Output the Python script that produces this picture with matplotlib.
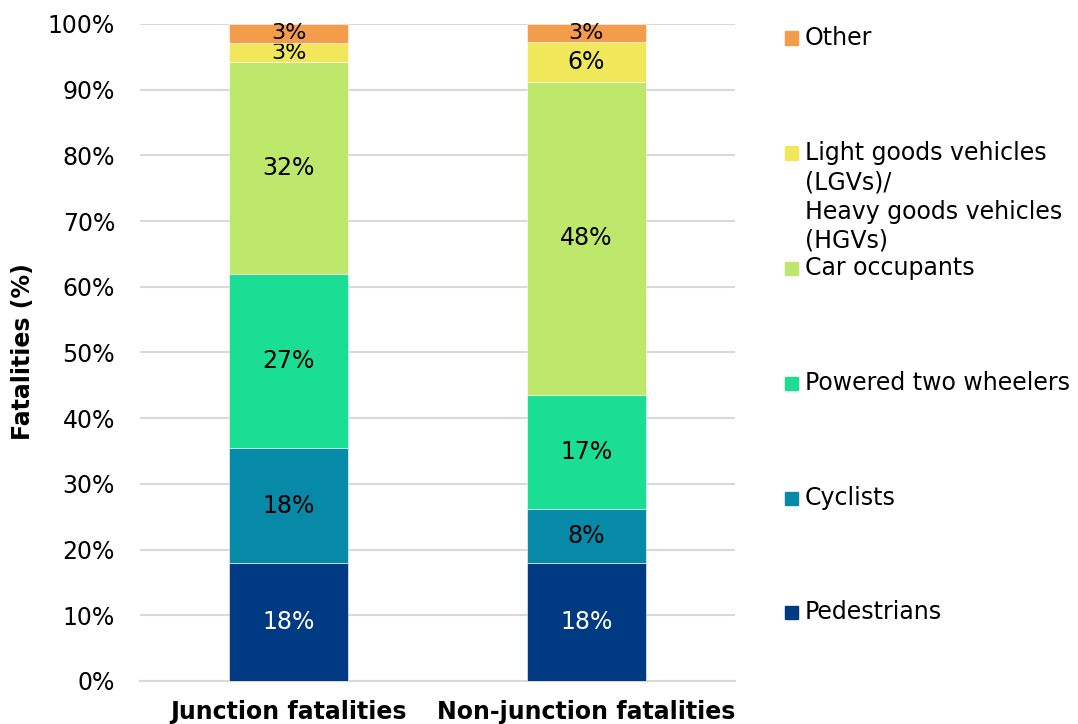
## stacked bar chart of fatalities by road user type
from matplotlib import pyplot as plt
from matplotlib.patches import Rectangle

categories = ['Junction fatalities', 'Non-junction fatalities']

# shares in % (bottom to top)
pedestrians = [18.0, 18.0]
cyclists = [17.4, 8.2]
powered_two_wheelers = [26.6, 17.3]
car_occupants = [32.2, 47.7]
goods_vehicles = [2.9, 6.1]
other = [2.9, 2.7]

# the labels as printed on the bars
ped_labels = ['18%', '18%']
cyc_labels = ['18%', '8%']
ptw_labels = ['27%', '17%']
car_labels = ['32%', '48%']
gv_labels = ['3%', '6%']
oth_labels = ['3%', '3%']

series = [
    ('Pedestrians', pedestrians, ped_labels, '#003A82', 'white'),
    ('Cyclists', cyclists, cyc_labels, '#0789A8', 'black'),
    ('Powered two wheelers', powered_two_wheelers, ptw_labels, '#19DE93', 'black'),
    ('Car occupants', car_occupants, car_labels, '#BDE86C', 'black'),
    ('Light goods vehicles\n(LGVs)/\nHeavy goods vehicles\n(HGVs)', goods_vehicles, gv_labels, '#F0E85A', 'black'),
    ('Other', other, oth_labels, '#F39C4C', 'black'),
]

fig = plt.figure(figsize=(10.78, 7.24), dpi=100)
ax = fig.add_axes([0.1299, 0.0594, 0.5519, 0.9075])

x = list(range(len(categories)))
bottom = [0.0] * len(categories)
for name, vals, labels, color, tcolor in series:
    bars = ax.bar(x, vals, width=0.4, bottom=bottom, color=color,
                  edgecolor='white', linewidth=0.4, zorder=3)
    texts = ax.bar_label(bars, labels=labels, label_type='center', color=tcolor, fontsize=17)
    # very thin segments get a slightly smaller label so they don't collide
    for t, v in zip(texts, vals):
        if v < 4:
            t.set_fontsize(16)
    bottom = [b + v for b, v in zip(bottom, vals)]

ax.set_xlim(-0.5, 1.5)
ax.set_ylim(0, 100)
ax.set_yticks(range(0, 101, 10))
ax.set_yticklabels([f'{v}%' for v in range(0, 101, 10)])
ax.set_xticks(x)
ax.set_xticklabels(categories, fontweight='bold')
ax.tick_params(axis='both', length=0, labelsize=17)
ax.tick_params(axis='y', pad=18)
ax.tick_params(axis='x', pad=14)
ax.grid(True, axis='y', color='#D9D9D9', linewidth=1.5, zorder=0)
ax.set_axisbelow(True)
for s in ['top', 'right', 'left']:
    ax.spines[s].set_visible(False)
ax.spines['bottom'].set_color('#D9D9D9')
ax.spines['bottom'].set_linewidth(1.5)

fig.text(23 / 1078, 1 - 352 / 724, 'Fatalities (%)', rotation=90, fontsize=17,
         fontweight='bold', ha='center', va='center')

# legend drawn by hand so the entries sit where they are in the picture
legend_y = [612, 498, 383, 268, 153, 38]
for (name, vals, labels, color, tcolor), ly in zip(series, legend_y):
    yf = 1 - ly / 724
    fig.add_artist(Rectangle((785 / 1078, yf - 6.5 / 724), 13 / 1078, 13 / 724,
                             transform=fig.transFigure, color=color))
    fig.text(805 / 1078, yf + 12 / 724, name, fontsize=17, ha='left', va='top',
             linespacing=1.28)

plt.savefig('out.png', dpi=100)
